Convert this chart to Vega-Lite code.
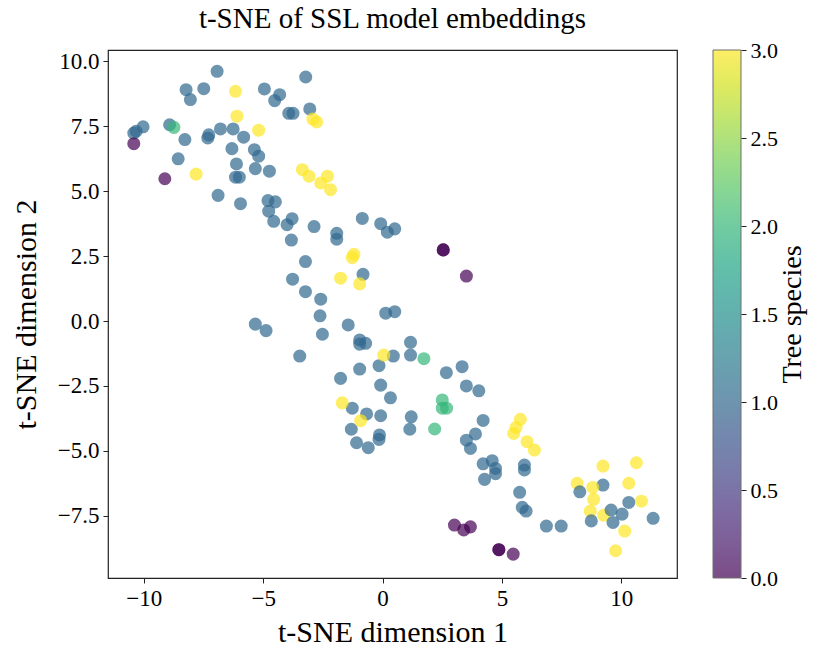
{
  "$schema": "https://vega.github.io/schema/vega-lite/v6.json",
  "width": 569,
  "height": 528,
  "autosize": {"type": "none"},
  "padding": {"left": 108, "top": 50, "right": 148, "bottom": 68},
  "background": "white",
  "title": {"text": "t-SNE of SSL model embeddings", "font": "Liberation Serif", "fontSize": 29, "fontWeight": "normal", "color": "black", "offset": 5},
  "config": {
    "view": {"stroke": "#222", "strokeWidth": 1.2},
    "axis": {"labelFont": "Liberation Serif", "labelFontSize": 23, "labelColor": "black", "titleFont": "Liberation Serif", "titleFontSize": 30, "titleFontWeight": "normal", "titleColor": "black", "tickColor": "#222", "tickSize": 5, "domain": false, "grid": false, "labelPadding": 4}
  },
  "data": {"values": [
    {"x": -6.93, "y": 9.62, "s": 1}, {"x": -8.23, "y": 8.91, "s": 1}, {"x": -7.49, "y": 8.95, "s": 1}, {"x": -8.05, "y": 8.53, "s": 1},
    {"x": -4.95, "y": 8.94, "s": 1}, {"x": -4.31, "y": 8.72, "s": 1}, {"x": -4.52, "y": 8.49, "s": 1}, {"x": -3.22, "y": 9.40, "s": 1},
    {"x": -3.93, "y": 8.00, "s": 1}, {"x": -3.75, "y": 8.00, "s": 1}, {"x": -3.05, "y": 8.17, "s": 1}, {"x": -10.03, "y": 7.48, "s": 1},
    {"x": -10.32, "y": 7.31, "s": 1}, {"x": -10.42, "y": 7.24, "s": 1}, {"x": -8.92, "y": 7.56, "s": 1}, {"x": -8.28, "y": 6.99, "s": 1},
    {"x": -6.79, "y": 7.40, "s": 1}, {"x": -7.28, "y": 7.17, "s": 1}, {"x": -7.32, "y": 7.05, "s": 1}, {"x": -6.26, "y": 7.40, "s": 1},
    {"x": -5.82, "y": 7.08, "s": 1}, {"x": -8.56, "y": 6.25, "s": 1}, {"x": -6.31, "y": 6.64, "s": 1}, {"x": -5.37, "y": 6.60, "s": 1},
    {"x": -5.19, "y": 6.35, "s": 1}, {"x": -6.12, "y": 6.05, "s": 1}, {"x": -5.33, "y": 5.87, "s": 1}, {"x": -4.74, "y": 5.77, "s": 1},
    {"x": -6.16, "y": 5.54, "s": 1}, {"x": -6.00, "y": 5.54, "s": 1}, {"x": -6.89, "y": 4.84, "s": 1}, {"x": -5.95, "y": 4.52, "s": 1},
    {"x": -4.80, "y": 4.64, "s": 1}, {"x": -4.49, "y": 4.59, "s": 1}, {"x": -4.77, "y": 4.23, "s": 1}, {"x": -3.79, "y": 3.94, "s": 1},
    {"x": -4.56, "y": 3.84, "s": 1}, {"x": -4.00, "y": 3.71, "s": 1}, {"x": -2.87, "y": 3.64, "s": 1}, {"x": -0.85, "y": 3.95, "s": 1},
    {"x": -0.08, "y": 3.75, "s": 1}, {"x": 0.20, "y": 3.42, "s": 1}, {"x": 0.51, "y": 3.55, "s": 1}, {"x": -3.82, "y": 3.12, "s": 1},
    {"x": -1.92, "y": 3.38, "s": 1}, {"x": -1.92, "y": 3.15, "s": 1}, {"x": -3.23, "y": 2.29, "s": 1}, {"x": -3.77, "y": 1.61, "s": 1},
    {"x": -3.23, "y": 1.13, "s": 1}, {"x": -0.82, "y": 1.80, "s": 1}, {"x": -5.33, "y": -0.12, "s": 1}, {"x": -4.88, "y": -0.37, "s": 1},
    {"x": -3.47, "y": -1.35, "s": 1}, {"x": -2.59, "y": 0.84, "s": 1}, {"x": -2.62, "y": 0.20, "s": 1}, {"x": 0.13, "y": 0.30, "s": 1},
    {"x": 0.51, "y": 0.36, "s": 1}, {"x": -1.44, "y": -0.15, "s": 1}, {"x": -2.52, "y": -0.51, "s": 1}, {"x": -0.96, "y": -0.73, "s": 1},
    {"x": -0.71, "y": -0.86, "s": 1}, {"x": -0.96, "y": -0.89, "s": 1}, {"x": 1.17, "y": -0.82, "s": 1}, {"x": 0.45, "y": -1.35, "s": 1},
    {"x": 1.17, "y": -1.31, "s": 1}, {"x": -0.96, "y": -1.85, "s": 1}, {"x": -0.15, "y": -1.72, "s": 1}, {"x": 2.67, "y": -1.99, "s": 1},
    {"x": 3.33, "y": -1.76, "s": 1}, {"x": -1.76, "y": -2.21, "s": 1}, {"x": -0.08, "y": -2.47, "s": 1}, {"x": 3.51, "y": -2.50, "s": 1},
    {"x": 4.03, "y": -2.69, "s": 1}, {"x": 0.33, "y": -2.96, "s": 1}, {"x": -0.08, "y": -3.65, "s": 1}, {"x": 1.20, "y": -3.69, "s": 1},
    {"x": 1.14, "y": -4.17, "s": 1}, {"x": 4.21, "y": -3.83, "s": 1}, {"x": -0.13, "y": -4.39, "s": 1}, {"x": -0.15, "y": -4.56, "s": 1},
    {"x": 3.89, "y": -4.35, "s": 1}, {"x": 3.51, "y": -4.59, "s": 1}, {"x": 3.68, "y": -4.91, "s": 1}, {"x": -1.27, "y": -3.36, "s": 1},
    {"x": -0.67, "y": -3.58, "s": 1}, {"x": -1.31, "y": -4.17, "s": 1}, {"x": -1.09, "y": -4.69, "s": 1}, {"x": -0.60, "y": -4.88, "s": 1},
    {"x": 4.21, "y": -5.50, "s": 1}, {"x": 4.59, "y": -5.38, "s": 1}, {"x": 4.73, "y": -5.68, "s": 1}, {"x": 4.73, "y": -5.88, "s": 1},
    {"x": 4.27, "y": -6.10, "s": 1}, {"x": 5.94, "y": -5.55, "s": 1}, {"x": 5.94, "y": -5.74, "s": 1}, {"x": 5.74, "y": -6.60, "s": 1},
    {"x": 5.85, "y": -7.18, "s": 1}, {"x": 6.01, "y": -7.32, "s": 1}, {"x": 6.86, "y": -7.90, "s": 1}, {"x": 7.48, "y": -7.90, "s": 1},
    {"x": -6.16, "y": 8.85, "s": 3}, {"x": -6.10, "y": 7.89, "s": 3}, {"x": -5.19, "y": 7.35, "s": 3}, {"x": -7.81, "y": 5.66, "s": 3},
    {"x": -3.36, "y": 5.83, "s": 3}, {"x": -3.08, "y": 5.58, "s": 3}, {"x": -2.31, "y": 5.58, "s": 3}, {"x": -2.59, "y": 5.32, "s": 3},
    {"x": -2.18, "y": 5.06, "s": 3}, {"x": -2.92, "y": 7.78, "s": 3}, {"x": -2.76, "y": 7.67, "s": 3}, {"x": -1.20, "y": 2.57, "s": 3},
    {"x": -1.27, "y": 2.44, "s": 3}, {"x": -1.76, "y": 1.65, "s": 3}, {"x": -0.96, "y": 1.43, "s": 3}, {"x": 0.05, "y": -1.31, "s": 3},
    {"x": -1.69, "y": -3.15, "s": 3}, {"x": -0.92, "y": -3.84, "s": 3}, {"x": 5.77, "y": -3.79, "s": 3}, {"x": 5.59, "y": -4.10, "s": 3},
    {"x": 5.49, "y": -4.33, "s": 3}, {"x": 6.05, "y": -4.65, "s": 3}, {"x": 6.36, "y": -4.97, "s": 3}, {"x": 8.15, "y": -6.25, "s": 3},
    {"x": 8.26, "y": -6.58, "s": 1},
    {"x": 9.23, "y": -5.59, "s": 3}, {"x": 9.23, "y": -6.32, "s": 1}, {"x": 8.80, "y": -6.41, "s": 3}, {"x": 8.84, "y": -6.87, "s": 3},
    {"x": 8.70, "y": -7.32, "s": 3}, {"x": 8.74, "y": -7.70, "s": 1}, {"x": 9.26, "y": -7.48, "s": 3}, {"x": 9.57, "y": -7.28, "s": 1},
    {"x": 9.65, "y": -7.76, "s": 1}, {"x": 10.03, "y": -7.44, "s": 1}, {"x": 10.31, "y": -6.99, "s": 1}, {"x": 11.33, "y": -7.60, "s": 1},
    {"x": 10.31, "y": -6.25, "s": 3}, {"x": 10.63, "y": -5.46, "s": 3}, {"x": 10.84, "y": -6.94, "s": 3}, {"x": 10.14, "y": -8.09, "s": 3},
    {"x": 9.76, "y": -8.85, "s": 3},
    {"x": -8.74, "y": 7.46, "s": 2}, {"x": 1.73, "y": -1.45, "s": 2}, {"x": 2.50, "y": -3.04, "s": 2}, {"x": 2.50, "y": -3.36, "s": 2},
    {"x": 2.68, "y": -3.36, "s": 2}, {"x": 2.18, "y": -4.16, "s": 2},
    {"x": -10.42, "y": 6.83, "s": 0}, {"x": -9.12, "y": 5.48, "s": 0}, {"x": 2.54, "y": 2.74, "s": 0}, {"x": 2.54, "y": 2.74, "s": 0},
    {"x": 3.51, "y": 1.73, "s": 0}, {"x": 3.01, "y": -7.86, "s": 0}, {"x": 3.40, "y": -8.05, "s": 0}, {"x": 3.68, "y": -7.93, "s": 0},
    {"x": 4.87, "y": -8.81, "s": 0}, {"x": 4.87, "y": -8.81, "s": 0}, {"x": 5.47, "y": -8.98, "s": 0}
  ]},
  "layer": [
    {
      "mark": {"type": "circle", "opacity": 0.7, "size": 170},
      "encoding": {
        "x": {"field": "x", "type": "quantitative", "scale": {"domain": [-11.5, 12.33], "nice": false, "zero": false},
          "axis": {"values": [-10, -5, 0, 5, 10], "format": "d", "title": "t-SNE dimension 1", "titlePadding": 7}},
        "y": {"field": "y", "type": "quantitative", "scale": {"domain": [-9.9, 10.44], "nice": false, "zero": false},
          "axis": {"values": [-7.5, -5, -2.5, 0, 2.5, 5, 7.5, 10], "format": ".1f", "title": "t-SNE dimension 2", "titlePadding": 16}},
        "color": {"field": "s", "type": "quantitative", "scale": {"scheme": "viridis", "domain": [0, 3]},
          "legend": {"orient": "none", "legendX": 605, "legendY": 0, "direction": "vertical", "gradientLength": 528, "gradientThickness": 28,
            "values": [0, 3], "labelExpr": "''", "labelFontSize": 1, "labelOffset": 0,
            "gradientStrokeColor": "#333", "gradientStrokeWidth": 1,
            "title": null,
            "encode": {
              "gradient": {"update": {"opacity": {"value": 0.7}}}
            }}}
      }
    },
    {
      "mark": {"type": "circle", "opacity": 0, "size": 1},
      "encoding": {
        "x": {"field": "x", "type": "quantitative"},
        "y": {"field": "s", "type": "quantitative", "scale": {"domain": [0, 3], "nice": false, "zero": false},
          "axis": {"orient": "right", "offset": 64, "values": [0, 0.5, 1, 1.5, 2, 2.5, 3], "format": ".1f", "tickColor": "#222", "tickSize": 5, "labelFontSize": 22,
            "title": "Tree species", "titleAngle": -90, "titleBaseline": "middle", "titlePadding": 15, "titleFontSize": 28}}
      }
    }
  ],
  "resolve": {"scale": {"y": "independent"}, "axis": {"y": "independent"}}
}
